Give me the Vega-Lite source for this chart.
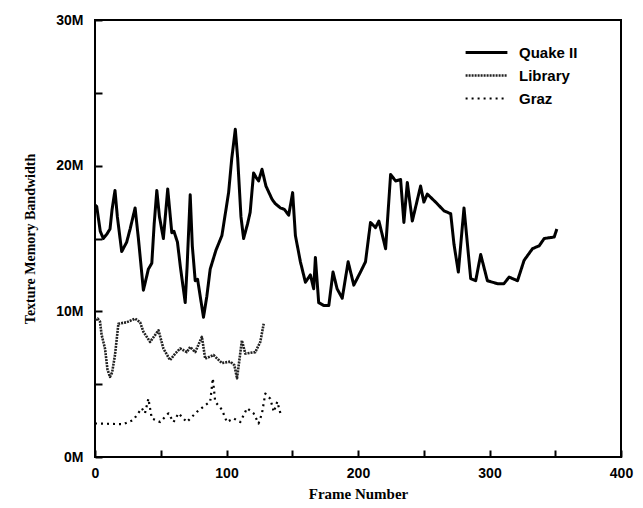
{
  "$schema": "https://vega.github.io/schema/vega-lite/v6.json",
  "autosize": "none",
  "padding": {"left": 95, "top": 20, "right": 22, "bottom": 51},
  "width": 526,
  "height": 437,
  "background": "white",
  "config": {
    "view": {"stroke": "black", "strokeWidth": 2}
  },
  "datasets": {
    "d": [
      {"series": "Quake II", "frame": 0, "value": 17.3},
      {"series": "Quake II", "frame": 1.3, "value": 17.2},
      {"series": "Quake II", "frame": 4, "value": 15.5},
      {"series": "Quake II", "frame": 6.3, "value": 15.0},
      {"series": "Quake II", "frame": 9, "value": 15.3},
      {"series": "Quake II", "frame": 11.4, "value": 15.65},
      {"series": "Quake II", "frame": 13, "value": 17.0},
      {"series": "Quake II", "frame": 15.2, "value": 18.3},
      {"series": "Quake II", "frame": 17, "value": 16.5},
      {"series": "Quake II", "frame": 20.3, "value": 14.1},
      {"series": "Quake II", "frame": 24.1, "value": 14.75},
      {"series": "Quake II", "frame": 26.7, "value": 15.65},
      {"series": "Quake II", "frame": 30.5, "value": 17.1},
      {"series": "Quake II", "frame": 33, "value": 15.0},
      {"series": "Quake II", "frame": 36.8, "value": 11.45},
      {"series": "Quake II", "frame": 40.6, "value": 12.9},
      {"series": "Quake II", "frame": 43.2, "value": 13.3},
      {"series": "Quake II", "frame": 45, "value": 16.0},
      {"series": "Quake II", "frame": 47, "value": 18.3},
      {"series": "Quake II", "frame": 49, "value": 16.5},
      {"series": "Quake II", "frame": 52, "value": 15.0},
      {"series": "Quake II", "frame": 55.3, "value": 18.4},
      {"series": "Quake II", "frame": 58.4, "value": 15.4},
      {"series": "Quake II", "frame": 60, "value": 15.5},
      {"series": "Quake II", "frame": 62.7, "value": 14.75},
      {"series": "Quake II", "frame": 65, "value": 13.0},
      {"series": "Quake II", "frame": 68.6, "value": 10.6},
      {"series": "Quake II", "frame": 70, "value": 13.0},
      {"series": "Quake II", "frame": 72.4, "value": 18.0},
      {"series": "Quake II", "frame": 74, "value": 14.5},
      {"series": "Quake II", "frame": 76.2, "value": 12.1},
      {"series": "Quake II", "frame": 78, "value": 12.2},
      {"series": "Quake II", "frame": 82.5, "value": 9.6},
      {"series": "Quake II", "frame": 85, "value": 11.0},
      {"series": "Quake II", "frame": 87.6, "value": 12.9},
      {"series": "Quake II", "frame": 92, "value": 14.2},
      {"series": "Quake II", "frame": 96.5, "value": 15.2},
      {"series": "Quake II", "frame": 101.6, "value": 18.15},
      {"series": "Quake II", "frame": 104, "value": 20.5},
      {"series": "Quake II", "frame": 106.7, "value": 22.5},
      {"series": "Quake II", "frame": 108.5, "value": 20.5},
      {"series": "Quake II", "frame": 111, "value": 16.5},
      {"series": "Quake II", "frame": 113, "value": 15.0},
      {"series": "Quake II", "frame": 116, "value": 16.0},
      {"series": "Quake II", "frame": 118, "value": 16.8},
      {"series": "Quake II", "frame": 120.6, "value": 19.5},
      {"series": "Quake II", "frame": 122.5, "value": 19.2},
      {"series": "Quake II", "frame": 124.4, "value": 18.95},
      {"series": "Quake II", "frame": 127, "value": 19.75},
      {"series": "Quake II", "frame": 130, "value": 18.6},
      {"series": "Quake II", "frame": 134.6, "value": 17.7},
      {"series": "Quake II", "frame": 137, "value": 17.4},
      {"series": "Quake II", "frame": 141, "value": 17.1},
      {"series": "Quake II", "frame": 144, "value": 17.0},
      {"series": "Quake II", "frame": 147.3, "value": 16.6},
      {"series": "Quake II", "frame": 150.3, "value": 18.15},
      {"series": "Quake II", "frame": 152.4, "value": 15.2},
      {"series": "Quake II", "frame": 156.2, "value": 13.4},
      {"series": "Quake II", "frame": 160, "value": 12.0},
      {"series": "Quake II", "frame": 163.8, "value": 12.5},
      {"series": "Quake II", "frame": 166.3, "value": 11.55},
      {"series": "Quake II", "frame": 167.6, "value": 13.7},
      {"series": "Quake II", "frame": 170.1, "value": 10.6},
      {"series": "Quake II", "frame": 174, "value": 10.4},
      {"series": "Quake II", "frame": 177.8, "value": 10.4},
      {"series": "Quake II", "frame": 181, "value": 12.7},
      {"series": "Quake II", "frame": 184.1, "value": 11.55},
      {"series": "Quake II", "frame": 188, "value": 10.9},
      {"series": "Quake II", "frame": 192.5, "value": 13.4},
      {"series": "Quake II", "frame": 196.8, "value": 11.8},
      {"series": "Quake II", "frame": 201.9, "value": 12.7},
      {"series": "Quake II", "frame": 205.7, "value": 13.4},
      {"series": "Quake II", "frame": 209.5, "value": 16.1},
      {"series": "Quake II", "frame": 213.3, "value": 15.75},
      {"series": "Quake II", "frame": 215.9, "value": 16.2},
      {"series": "Quake II", "frame": 221, "value": 14.3},
      {"series": "Quake II", "frame": 224.8, "value": 19.4},
      {"series": "Quake II", "frame": 228.6, "value": 18.95},
      {"series": "Quake II", "frame": 232.4, "value": 19.05},
      {"series": "Quake II", "frame": 234.9, "value": 16.1},
      {"series": "Quake II", "frame": 237.5, "value": 18.85},
      {"series": "Quake II", "frame": 241.3, "value": 16.2},
      {"series": "Quake II", "frame": 247.6, "value": 18.6},
      {"series": "Quake II", "frame": 250.1, "value": 17.5},
      {"series": "Quake II", "frame": 252.7, "value": 18.05},
      {"series": "Quake II", "frame": 259, "value": 17.5},
      {"series": "Quake II", "frame": 265.4, "value": 16.9},
      {"series": "Quake II", "frame": 270.5, "value": 16.7},
      {"series": "Quake II", "frame": 273, "value": 14.6},
      {"series": "Quake II", "frame": 276.3, "value": 12.7},
      {"series": "Quake II", "frame": 280.6, "value": 17.1},
      {"series": "Quake II", "frame": 285.7, "value": 12.25},
      {"series": "Quake II", "frame": 289.5, "value": 12.1},
      {"series": "Quake II", "frame": 293.3, "value": 13.9},
      {"series": "Quake II", "frame": 298.4, "value": 12.1},
      {"series": "Quake II", "frame": 306, "value": 11.9},
      {"series": "Quake II", "frame": 311, "value": 11.9},
      {"series": "Quake II", "frame": 314.9, "value": 12.35},
      {"series": "Quake II", "frame": 321.3, "value": 12.1},
      {"series": "Quake II", "frame": 326.3, "value": 13.5},
      {"series": "Quake II", "frame": 332.7, "value": 14.3},
      {"series": "Quake II", "frame": 337.8, "value": 14.5},
      {"series": "Quake II", "frame": 341.6, "value": 15.0},
      {"series": "Quake II", "frame": 349.2, "value": 15.1},
      {"series": "Quake II", "frame": 351.2, "value": 15.65},
      {"series": "Library", "frame": 0, "value": 9.4},
      {"series": "Library", "frame": 2, "value": 9.5},
      {"series": "Library", "frame": 3.8, "value": 9.3},
      {"series": "Library", "frame": 5, "value": 8.4},
      {"series": "Library", "frame": 7.6, "value": 7.45},
      {"series": "Library", "frame": 9.5, "value": 6.0},
      {"series": "Library", "frame": 11.4, "value": 5.5},
      {"series": "Library", "frame": 13, "value": 5.8},
      {"series": "Library", "frame": 15.2, "value": 7.0},
      {"series": "Library", "frame": 17.8, "value": 9.15},
      {"series": "Library", "frame": 24.1, "value": 9.25},
      {"series": "Library", "frame": 30.5, "value": 9.5},
      {"series": "Library", "frame": 34.3, "value": 9.25},
      {"series": "Library", "frame": 36.8, "value": 8.6},
      {"series": "Library", "frame": 41.9, "value": 7.9},
      {"series": "Library", "frame": 48.3, "value": 8.7},
      {"series": "Library", "frame": 52, "value": 7.45},
      {"series": "Library", "frame": 57.1, "value": 6.65},
      {"series": "Library", "frame": 61, "value": 7.1},
      {"series": "Library", "frame": 64.8, "value": 7.45},
      {"series": "Library", "frame": 69.8, "value": 7.2},
      {"series": "Library", "frame": 72.4, "value": 7.55},
      {"series": "Library", "frame": 76.2, "value": 7.2},
      {"series": "Library", "frame": 81.3, "value": 8.25},
      {"series": "Library", "frame": 83.8, "value": 6.75},
      {"series": "Library", "frame": 90.1, "value": 7.0},
      {"series": "Library", "frame": 96.5, "value": 6.45},
      {"series": "Library", "frame": 102.9, "value": 6.55},
      {"series": "Library", "frame": 106, "value": 6.3},
      {"series": "Library", "frame": 108, "value": 5.4},
      {"series": "Library", "frame": 110, "value": 6.8},
      {"series": "Library", "frame": 111.7, "value": 8.0},
      {"series": "Library", "frame": 114.3, "value": 7.1},
      {"series": "Library", "frame": 121.9, "value": 7.2},
      {"series": "Library", "frame": 125.7, "value": 7.9},
      {"series": "Library", "frame": 128.3, "value": 9.15},
      {"series": "Graz", "frame": 0, "value": 2.3},
      {"series": "Graz", "frame": 2.5, "value": 2.3},
      {"series": "Graz", "frame": 21.6, "value": 2.25},
      {"series": "Graz", "frame": 29.2, "value": 2.55},
      {"series": "Graz", "frame": 35.6, "value": 3.35},
      {"series": "Graz", "frame": 38, "value": 3.0},
      {"series": "Graz", "frame": 40.6, "value": 4.0},
      {"series": "Graz", "frame": 43.2, "value": 2.65},
      {"series": "Graz", "frame": 49.5, "value": 2.4},
      {"series": "Graz", "frame": 55.9, "value": 3.0},
      {"series": "Graz", "frame": 59.7, "value": 2.4},
      {"series": "Graz", "frame": 63.5, "value": 3.0},
      {"series": "Graz", "frame": 69.8, "value": 2.4},
      {"series": "Graz", "frame": 77.5, "value": 3.1},
      {"series": "Graz", "frame": 83.8, "value": 3.55},
      {"series": "Graz", "frame": 87.6, "value": 3.8},
      {"series": "Graz", "frame": 89.6, "value": 5.4},
      {"series": "Graz", "frame": 91.4, "value": 3.8},
      {"series": "Graz", "frame": 96.5, "value": 3.25},
      {"series": "Graz", "frame": 100.3, "value": 2.4},
      {"series": "Graz", "frame": 105.4, "value": 2.65},
      {"series": "Graz", "frame": 110.5, "value": 2.4},
      {"series": "Graz", "frame": 115.6, "value": 3.35},
      {"series": "Graz", "frame": 120.6, "value": 3.0},
      {"series": "Graz", "frame": 124.4, "value": 2.3},
      {"series": "Graz", "frame": 127, "value": 3.0},
      {"series": "Graz", "frame": 129.5, "value": 4.35},
      {"series": "Graz", "frame": 133.3, "value": 4.0},
      {"series": "Graz", "frame": 136, "value": 3.1},
      {"series": "Graz", "frame": 138.6, "value": 3.8},
      {"series": "Graz", "frame": 141, "value": 3.0}
    ]
  },
  "data": {"name": "d"},
  "mark": {"type": "line", "strokeJoin": "round", "strokeCap": "butt"},
  "encoding": {
    "x": {
      "field": "frame", "type": "quantitative",
      "scale": {"domain": [0, 400], "nice": false, "zero": false},
      "axis": {
        "orient": "bottom", "values": [0, 50, 100, 150, 200, 250, 300, 350, 400],
        "labelExpr": "datum.value % 100 == 0 ? datum.label : ''",
        "domain": false, "grid": false, "ticks": true, "tickColor": "black", "tickWidth": 2,
        "tickSize": -7, "labelPadding": 16, "labelColor": "black",
        "labelFont": "Liberation Sans", "labelFontWeight": "bold", "labelFontSize": 14,
        "labelFlush": false,
        "title": "Frame Number", "titleColor": "black", "titleFont": "Liberation Serif", "titleFontWeight": "bold", "titleFontSize": 15, "titlePadding": 6
      }
    },
    "y": {
      "field": "value", "type": "quantitative",
      "scale": {"domain": [0, 30], "nice": false, "zero": true},
      "axis": {
        "orient": "left", "values": [0, 5, 10, 15, 20, 25, 30],
        "labelExpr": "datum.value % 10 == 0 ? datum.value + 'M' : ''",
        "domain": false, "grid": false, "ticks": true, "tickColor": "black", "tickWidth": 2,
        "tickSize": -7, "labelPadding": 19, "labelColor": "black",
        "labelFont": "Liberation Sans", "labelFontWeight": "bold", "labelFontSize": 14,
        "labelFlush": false,
        "title": "Texture Memory Bandwidth", "titleColor": "black", "titleFont": "Liberation Serif", "titleFontWeight": "bold", "titleFontSize": 14, "titlePadding": 18
      }
    },
    "color": {
      "field": "series", "type": "nominal",
      "scale": {"domain": ["Quake II", "Library", "Graz"], "range": ["black", "#222222", "black"]},
      "legend": {
        "orient": "none", "legendX": 379, "legendY": 20, "title": null,
        "symbolType": "M-1.9,0H1.9", "symbolSize": 484, "symbolStrokeWidth": 2.5,
        "labelFont": "Liberation Sans", "labelFontSize": 15, "labelFontWeight": "bold", "labelColor": "black",
        "rowPadding": 2, "labelOffset": 20
      }
    },
    "strokeDash": {
      "field": "series", "type": "nominal",
      "scale": {"domain": ["Quake II", "Library", "Graz"], "range": [[1, 0], [2, 1], [2, 4]]},
      "legend": {
        "orient": "none", "legendX": 379, "legendY": 20, "title": null,
        "symbolType": "M-1.9,0H1.9", "symbolSize": 484, "symbolStrokeWidth": 2.5,
        "labelFont": "Liberation Sans", "labelFontSize": 15, "labelFontWeight": "bold", "labelColor": "black",
        "rowPadding": 2, "labelOffset": 20
      }
    },
    "strokeWidth": {
      "field": "series", "type": "nominal",
      "scale": {"domain": ["Quake II", "Library", "Graz"], "range": [3, 2.2, 2]},
      "legend": null
    },
    "order": {"field": "frame", "type": "quantitative"}
  }
}
